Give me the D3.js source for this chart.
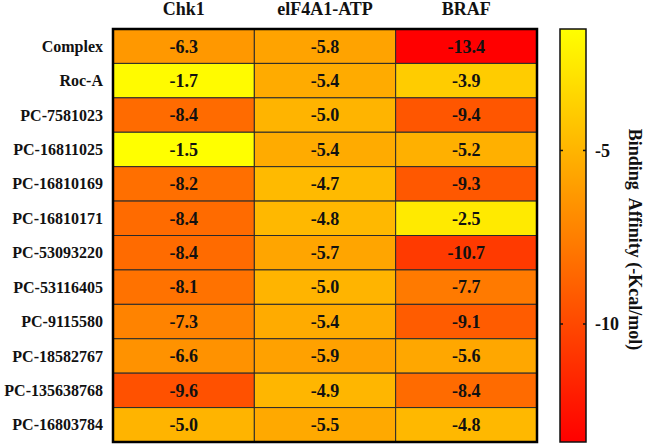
<!DOCTYPE html>
<html><head><meta charset="utf-8">
<script src="https://cdn.jsdelivr.net/npm/d3@7"></script>
<style>body{margin:0;background:#fff}svg{display:block}</style>
</head><body>
<svg id="c" width="648" height="445"></svg>
<script>
const rows = ["Complex","Roc-A","PC-7581023","PC-16811025","PC-16810169","PC-16810171","PC-53093220","PC-53116405","PC-9115580","PC-18582767","PC-135638768","PC-16803784"];
const cols = ["Chk1","elF4A1-ATP","BRAF"];
const chk1 = [-6.3,-1.7,-8.4,-1.5,-8.2,-8.4,-8.4,-8.1,-7.3,-6.6,-9.6,-5.0];
const eif4a1 = [-5.8,-5.4,-5.0,-5.4,-4.7,-4.8,-5.7,-5.0,-5.4,-5.9,-4.9,-5.5];
const braf = [-13.4,-3.9,-9.4,-5.2,-9.3,-2.5,-10.7,-7.7,-9.1,-5.6,-8.4,-4.8];
const colorTicks = [-5,-10];
const colorTitle = "Binding  Affinity (-Kcal/mol)";

const series = [chk1, eif4a1, braf];
const cells = [];
series.forEach((s,ci)=>s.forEach((v,ri)=>cells.push({r:rows[ri],c:cols[ci],v})));
const allV = cells.map(d=>d.v);
const vmin = d3.min(allV), vmax = d3.max(allV);

const font = "'Liberation Serif','Times New Roman',serif";
const svg = d3.select("#c");
const L=113, R=537, T=29, B=442;
const x = d3.scaleBand().domain(cols).range([L,R]);
const y = d3.scaleBand().domain(rows).range([T,B]);
const color = d3.scaleLinear().domain([vmin,vmax]).range(["#ff0000","#ffff00"]).interpolate(d3.interpolateRgb);

svg.append("g").selectAll("rect").data(cells).join("rect")
  .attr("x",d=>x(d.c)).attr("y",d=>y(d.r))
  .attr("width",x.bandwidth()).attr("height",y.bandwidth())
  .attr("fill",d=>color(d.v)).attr("stroke","#2a2a2a").attr("stroke-width",1);

svg.append("g").selectAll("text").data(cells).join("text")
  .attr("x",d=>x(d.c)+x.bandwidth()/2).attr("y",d=>y(d.r)+y.bandwidth()/2)
  .attr("dy","0.35em").attr("text-anchor","middle")
  .attr("font-family",font).attr("font-weight","bold").attr("font-size",18)
  .attr("fill","#111").text(d=>d.v.toFixed(1));

svg.append("rect").attr("x",L).attr("y",T).attr("width",R-L).attr("height",B-T)
  .attr("fill","none").attr("stroke","#000").attr("stroke-width",2.5);

svg.append("g").selectAll("text").data(rows).join("text")
  .attr("x",L-10).attr("y",d=>y(d)+y.bandwidth()/2).attr("dy","0.35em")
  .attr("text-anchor","end").attr("font-family",font).attr("font-weight","bold")
  .attr("font-size",16).attr("fill","#111").text(d=>d);

svg.append("g").selectAll("text").data(cols).join("text")
  .attr("x",d=>x(d)+x.bandwidth()/2).attr("y",15)
  .attr("text-anchor","middle").attr("font-family",font).attr("font-weight","bold")
  .attr("font-size",18).attr("fill","#111").text(d=>d);

// colorbar
const CL=560, CR=586;
const cy = d3.scaleLinear().domain([vmax,vmin]).range([T,B]);
const grad = svg.append("defs").append("linearGradient").attr("id","g")
  .attr("x1",0).attr("y1",0).attr("x2",0).attr("y2",1);
d3.range(0,1.0001,0.1).forEach(t=>{
  grad.append("stop").attr("offset",t).attr("stop-color",color(vmax+(vmin-vmax)*t));
});
svg.append("rect").attr("x",CL).attr("y",T).attr("width",CR-CL).attr("height",B-T)
  .attr("fill","url(#g)").attr("stroke","#111").attr("stroke-width",1.5);
const tk = svg.append("g");
colorTicks.forEach(t=>{
  tk.append("line").attr("x1",CL).attr("x2",CL+3).attr("y1",cy(t)).attr("y2",cy(t)).attr("stroke","#111").attr("stroke-width",1.5);
  tk.append("line").attr("x1",CR-3).attr("x2",CR).attr("y1",cy(t)).attr("y2",cy(t)).attr("stroke","#111").attr("stroke-width",1.5);
  tk.append("text").attr("x",CR+9).attr("y",cy(t)).attr("dy","0.35em")
    .attr("font-family",font).attr("font-weight","bold").attr("font-size",18).attr("fill","#111").text(t);
});
svg.append("text").attr("transform",`translate(629,${(T+B)/2+4}) rotate(90)`)
  .attr("text-anchor","middle").attr("font-family",font).attr("font-weight","bold")
  .attr("font-size",18).attr("fill","#111").attr("xml:space","preserve").style("white-space","pre")
  .text(colorTitle);
</script>
</body></html>
